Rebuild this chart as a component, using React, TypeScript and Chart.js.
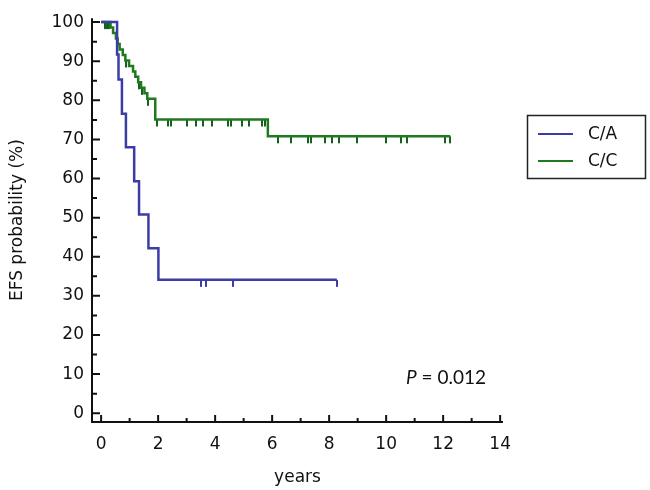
import React, { useEffect, useRef } from "react";
import { Chart, registerables } from "chart.js";

Chart.register(...registerables);

const seriesNames = ["C/A", "C/C"];
const seriesColors = ["#3c3ca6", "#1f7a1f"];

// C/A group: event times (years) and survival (%) after each step
const caTimes = [0, 0.56, 0.61, 0.73, 0.87, 1.16, 1.33, 1.66, 2.01, 8.27];
const caSurvival = [100, 91.7, 85.3, 76.6, 68.0, 59.3, 50.8, 42.2, 34.1, 34.1];
const caCensored = [3.5, 3.68, 4.62, 8.27];

// C/C group
const ccTimes = [0, 0.33, 0.42, 0.52, 0.58, 0.65, 0.76, 0.85, 0.98, 1.12, 1.2, 1.3, 1.4, 1.52, 1.62, 1.9, 5.85, 12.25];
const ccSurvival = [100, 98.6, 97.2, 95.8, 94.4, 93.0, 91.6, 90.2, 88.8, 87.4, 86.0, 84.6, 83.2, 81.8, 80.4, 75.1, 70.8, 70.8];
const ccCensored = [
  0.13, 0.2, 0.28, 0.88, 1.33, 1.45, 1.66,
  1.95, 2.35, 2.45, 3.01, 3.32, 3.57, 3.9, 4.45, 4.55, 4.95, 5.18, 5.63, 5.75,
  6.19, 6.67, 7.27, 7.35, 7.86, 8.09, 8.35, 8.99, 10.0, 10.53, 10.74, 12.07, 12.25,
];

const xTicks = [0, 2, 4, 6, 8, 10, 12, 14];
const xMinorTicks = [1, 3, 5, 7, 9, 11, 13];
const yTicks = [0, 10, 20, 30, 40, 50, 60, 70, 80, 90, 100];
const yMinorTicks = [5, 15, 25, 35, 45, 55, 65, 75, 85, 95];
const xTitle = "years";
const yTitle = "EFS probability (%)";
const pLetter = "P";
const pRest = " = 0.012";

function survivalAt(times: number[], surv: number[], t: number) {
  let v = surv[0];
  for (let i = 0; i < times.length; i++) {
    if (times[i] <= t + 1e-9) v = surv[i];
  }
  return v;
}

function makeTickImage(color: string) {
  const c = document.createElement("canvas");
  c.width = 2;
  c.height = 16;
  const g = c.getContext("2d")!;
  g.fillStyle = color;
  g.fillRect(0, 8, 2, 7);
  return c;
}

const tickFont = { family: "'DejaVu Sans', sans-serif", size: 17 };

const decorPlugin = {
  id: "decor",
  afterDraw(chart: any) {
    const { ctx, chartArea } = chart;
    const xs = chart.scales.x;
    const ys = chart.scales.y;
    ctx.save();
    ctx.strokeStyle = "#111";
    ctx.lineWidth = 2;
    // axes
    ctx.beginPath();
    ctx.moveTo(chartArea.left, chartArea.top);
    ctx.lineTo(chartArea.left, chartArea.bottom);
    ctx.lineTo(chartArea.right, chartArea.bottom);
    ctx.stroke();
    // inward ticks
    ctx.beginPath();
    yTicks.forEach((v) => {
      const y = ys.getPixelForValue(v);
      ctx.moveTo(chartArea.left, y);
      ctx.lineTo(chartArea.left + 8, y);
    });
    yMinorTicks.forEach((v) => {
      const y = ys.getPixelForValue(v);
      ctx.moveTo(chartArea.left, y);
      ctx.lineTo(chartArea.left + 5, y);
    });
    xTicks.forEach((v) => {
      const x = xs.getPixelForValue(v);
      ctx.moveTo(x, chartArea.bottom);
      ctx.lineTo(x, chartArea.bottom - 7);
    });
    xMinorTicks.forEach((v) => {
      const x = xs.getPixelForValue(v);
      ctx.moveTo(x, chartArea.bottom);
      ctx.lineTo(x, chartArea.bottom - 4);
    });
    ctx.stroke();

    // legend box
    ctx.lineWidth = 1.5;
    ctx.strokeStyle = "#222";
    ctx.strokeRect(527.5, 115.5, 118, 63);
    const rows = [134, 161];
    seriesNames.forEach((name, i) => {
      ctx.strokeStyle = seriesColors[i];
      ctx.lineWidth = 2;
      ctx.beginPath();
      ctx.moveTo(538, rows[i]);
      ctx.lineTo(573, rows[i]);
      ctx.stroke();
      ctx.fillStyle = "#111";
      ctx.font = "17px 'DejaVu Sans', sans-serif";
      ctx.textAlign = "left";
      ctx.textBaseline = "middle";
      ctx.fillText(name, 588, rows[i] + 1);
    });

    // P value
    ctx.fillStyle = "#111";
    ctx.textBaseline = "middle";
    ctx.font = "italic 19px Lato, sans-serif";
    ctx.fillText(pLetter, 406, 378);
    const w = ctx.measureText(pLetter).width;
    ctx.font = "19px Lato, sans-serif";
    ctx.fillText(pRest, 406 + w, 378);
    ctx.restore();
  },
};

export default function App() {
  const ref = useRef<HTMLCanvasElement>(null);

  useEffect(() => {
    if (!ref.current) return;
    const caLine = caTimes.map((t, i) => ({ x: t, y: caSurvival[i] }));
    const ccLine = ccTimes.map((t, i) => ({ x: t, y: ccSurvival[i] }));
    const caMarks = caCensored.map((t) => ({ x: t, y: survivalAt(caTimes, caSurvival, t) }));
    const ccMarks = ccCensored.map((t) => ({ x: t, y: survivalAt(ccTimes, ccSurvival, t) }));

    const chart = new Chart(ref.current, {
      type: "line",
      data: {
        datasets: [
          {
            label: seriesNames[0],
            data: caLine,
            borderColor: seriesColors[0],
            borderWidth: 2.5,
            stepped: true,
            pointRadius: 0,
            fill: false,
          },
          {
            label: seriesNames[1],
            data: ccLine,
            borderColor: seriesColors[1],
            borderWidth: 2.5,
            stepped: true,
            pointRadius: 0,
            fill: false,
          },
          {
            label: seriesNames[0] + " censored",
            data: caMarks,
            showLine: false,
            pointStyle: makeTickImage(seriesColors[0]) as any,
            pointRadius: 4,
          },
          {
            label: seriesNames[1] + " censored",
            data: ccMarks,
            showLine: false,
            pointStyle: makeTickImage("#17601a") as any,
            pointRadius: 4,
          },
        ],
      },
      options: {
        animation: false,
        responsive: true,
        maintainAspectRatio: false,
        layout: { padding: { top: 9, right: 147, left: 0, bottom: 0 } },
        plugins: { legend: { display: false }, tooltip: { enabled: false } },
        scales: {
          x: {
            type: "linear",
            min: -0.32,
            max: 14.1,
            grid: { display: false, drawTicks: false },
            border: { display: false },
            afterBuildTicks: (axis: any) => {
              axis.ticks = xTicks.map((v) => ({ value: v }));
            },
            afterFit: (axis: any) => {
              axis.height = 68;
            },
            ticks: { font: tickFont, color: "#111", padding: 12, maxRotation: 0, autoSkip: false },
            title: {
              display: true,
              text: xTitle,
              font: tickFont,
              color: "#111",
              padding: { top: 0, bottom: 2 },
            },
          },
          y: {
            type: "linear",
            min: -2.25,
            max: 101,
            grid: { display: false, drawTicks: false },
            border: { display: false },
            afterBuildTicks: (axis: any) => {
              axis.ticks = yTicks.map((v) => ({ value: v }));
            },
            afterFit: (axis: any) => {
              axis.width = 92;
            },
            ticks: { font: tickFont, color: "#111", padding: 8, autoSkip: false },
            title: {
              display: true,
              text: yTitle,
              font: tickFont,
              color: "#111",
              padding: { top: 7, bottom: 0 },
            },
          },
        },
      },
      plugins: [decorPlugin],
    });
    return () => chart.destroy();
  }, []);

  return (
    <div style={{ position: "fixed", left: 0, top: 0, width: 650, height: 490, background: "#fff" }}>
      <canvas ref={ref} />
    </div>
  );
}
